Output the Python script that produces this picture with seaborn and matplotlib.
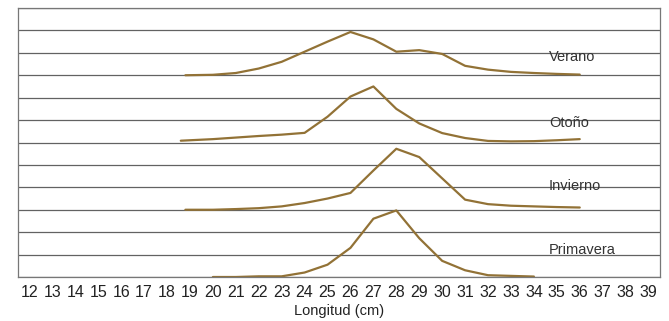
import numpy as np
import pandas as pd
import matplotlib
matplotlib.use('Agg')
import matplotlib.pyplot as plt
import seaborn as sns

# length classes (cm) and relative frequency per season
verano_x = [18.8, 20, 21, 22, 23, 24, 25, 26, 27, 28, 29, 30, 31, 32, 33, 34, 35, 36]
verano_y = [0.0, 0.02, 0.1, 0.3, 0.6, 1.05, 1.5, 1.93, 1.6, 1.05, 1.12, 0.95, 0.42, 0.25, 0.15, 0.1, 0.06, 0.03]

otono_x = [18.6, 20, 21, 22, 23, 24, 25, 26, 27, 28, 29, 30, 31, 32, 33, 34, 35, 36]
otono_y = [0.08, 0.15, 0.22, 0.29, 0.35, 0.43, 1.15, 2.05, 2.5, 1.5, 0.85, 0.42, 0.2, 0.07, 0.05, 0.06, 0.1, 0.15]

invierno_x = [18.8, 20, 21, 22, 23, 24, 25, 26, 27, 28, 29, 30, 31, 32, 33, 34, 35, 36]
invierno_y = [0.0, 0.0, 0.03, 0.07, 0.15, 0.3, 0.5, 0.75, 1.75, 2.72, 2.35, 1.4, 0.45, 0.25, 0.18, 0.15, 0.12, 0.1]

primavera_x = [20, 21, 22, 23, 24, 25, 26, 27, 28, 29, 30, 31, 32, 33, 34]
primavera_y = [0.0, 0.0, 0.03, 0.03, 0.2, 0.55, 1.3, 2.6, 2.97, 1.73, 0.72, 0.3, 0.08, 0.05, 0.02]

seasons = ['Verano', 'Otoño', 'Invierno', 'Primavera']
x_ticks = list(range(12, 40))

series = {
    'Verano': (verano_x, verano_y),
    'Otoño': (otono_x, otono_y),
    'Invierno': (invierno_x, invierno_y),
    'Primavera': (primavera_x, primavera_y),
}
# vertical stacking of the curves
offsets = {'Verano': 9, 'Otoño': 6, 'Invierno': 3, 'Primavera': 0}

rows = []
for name in seasons:
    xs, ys = series[name]
    for x, y in zip(xs, ys):
        rows.append({'season': name, 'length': x, 'value': y + offsets[name]})
df = pd.DataFrame(rows)

sns.set_style('white')
plt.rcParams['font.family'] = ['Liberation Sans', 'DejaVu Sans']

fig = plt.figure(figsize=(6.69, 3.21), dpi=100)
ax = fig.add_axes([18 / 669, 44 / 321, 642 / 669, 269 / 321])

line_color = '#927236'
sns.lineplot(data=df, x='length', y='value', hue='season', units='season',
             estimator=None, sort=False, palette=[line_color] * 4,
             legend=False, linewidth=1.6, ax=ax)

for y in range(0, 13):
    ax.axhline(y, color='#626262', linewidth=0.9, zorder=0)

label_pos = {'Verano': 9.8, 'Otoño': 6.85, 'Invierno': 4.05, 'Primavera': 1.2}
for name in seasons:
    ax.text(34.65, label_pos[name], name, fontsize=10.5, color='#333333',
            va='center', ha='left')

ax.set_xlim(11.5, 39.5)
ax.set_ylim(0, 12)
ax.set_xticks(x_ticks)
ax.set_xticklabels([str(t) for t in x_ticks], fontsize=11.5, color='#222222')
ax.set_yticks(range(0, 13))
ax.set_yticklabels([])
ax.tick_params(axis='x', direction='inout', length=7, width=0.8, color='#555555', pad=2)
ax.tick_params(axis='y', direction='out', length=5, width=0.8, color='#555555')
ax.set_xlabel('Longitud (cm)', fontsize=10.5, color='#222222', labelpad=3)
ax.set_ylabel('')
for s in ax.spines.values():
    s.set_color('#777777')
    s.set_linewidth(0.9)

fig.savefig('out.png', dpi=100, facecolor='white')
